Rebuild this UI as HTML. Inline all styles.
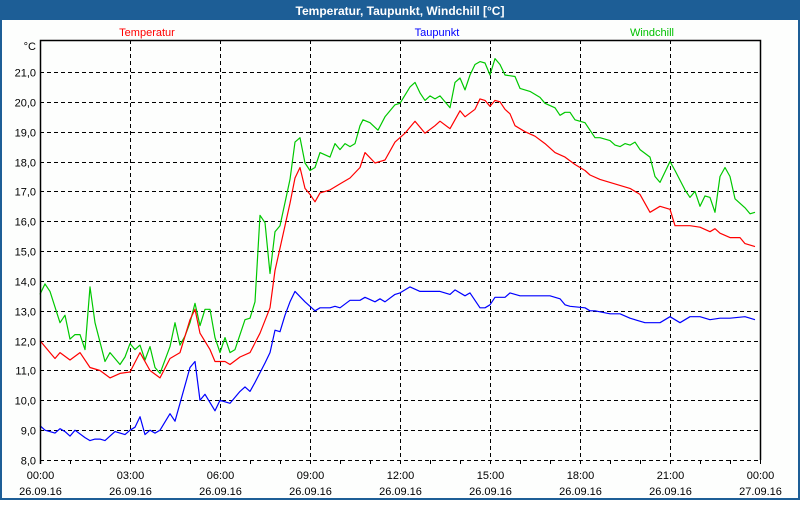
<!DOCTYPE html>
<html><head><meta charset="utf-8"><style>
body{margin:0;width:800px;height:500px;overflow:hidden;background:#fff;font-family:"Liberation Sans",sans-serif}
</style></head><body>
<svg id="chart" width="800" height="500" xmlns="http://www.w3.org/2000/svg" font-family="Liberation Sans, sans-serif">
<rect x="0" y="0" width="800" height="500" fill="#1d5e96"/>
<rect x="2" y="20" width="796" height="478" fill="#fdfefd"/>
<text x="400" y="15" fill="#fff" font-size="12" font-weight="bold" text-anchor="middle">Temperatur, Taupunkt, Windchill [°C]</text>
<text x="147" y="36" fill="#ff0000" font-size="11" text-anchor="middle">Temperatur</text>
<text x="437" y="36" fill="#0000ff" font-size="11" text-anchor="middle">Taupunkt</text>
<text x="652" y="36" fill="#00c000" font-size="11" text-anchor="middle">Windchill</text>
<text x="36" y="50" font-size="11" text-anchor="end">°C</text>
<g id="grid"></g><g id="series"></g><g id="axes"></g>
</svg>
<script>
const yTicks=[8,9,10,11,12,13,14,15,16,17,18,19,20,21];
const yTickLabels=["8,0","9,0","10,0","11,0","12,0","13,0","14,0","15,0","16,0","17,0","18,0","19,0","20,0","21,0"];
const xTicksHours=[0,3,6,9,12,15,18,21,24];
const xTickLabels=["00:00","03:00","06:00","09:00","12:00","15:00","18:00","21:00","00:00"];
const xDateLabels=["26.09.16","26.09.16","26.09.16","26.09.16","26.09.16","26.09.16","26.09.16","26.09.16","27.09.16"];
// times in minutes after midnight
const tempTimes=[0,20,30,40,60,80,100,120,140,160,180,200,220,240,260,280,300,310,320,340,350,370,380,400,420,440,460,470,480,500,510,520,530,540,550,560,580,600,620,640,650,670,690,710,730,750,770,790,800,820,840,850,870,880,890,900,910,920,930,940,950,970,990,1010,1030,1050,1070,1090,1100,1120,1140,1160,1180,1200,1220,1240,1260,1270,1300,1320,1340,1350,1360,1380,1400,1410,1430];
const tempValues=[12.0,11.6,11.4,11.6,11.35,11.6,11.1,11.0,10.75,10.9,10.95,11.6,11.0,10.75,11.4,11.6,12.7,13.05,12.25,11.7,11.3,11.3,11.2,11.45,11.6,12.25,13.1,14.35,15.1,16.6,17.45,17.8,17.1,16.9,16.65,16.95,17.05,17.25,17.45,17.8,18.3,17.95,18.05,18.65,18.95,19.35,18.95,19.2,19.35,19.1,19.7,19.5,19.75,20.1,20.05,19.85,20.05,20.0,19.75,19.6,19.2,19.0,18.85,18.6,18.3,18.15,17.9,17.7,17.55,17.4,17.3,17.2,17.1,16.9,16.3,16.5,16.4,15.85,15.85,15.8,15.65,15.75,15.6,15.45,15.45,15.25,15.15];
const dewTimes=[0,10,30,40,50,60,70,90,100,110,120,130,150,170,180,190,200,210,220,230,240,260,270,280,300,310,320,330,350,360,380,400,410,420,430,450,460,470,480,490,500,510,530,550,560,580,590,600,620,640,650,670,680,690,710,720,740,760,800,820,830,850,860,880,890,900,910,930,940,960,1020,1040,1050,1060,1090,1100,1110,1140,1160,1180,1210,1240,1260,1280,1300,1320,1340,1360,1380,1410,1430];
const dewValues=[9.15,9.0,8.9,9.05,8.95,8.8,9.0,8.75,8.65,8.7,8.7,8.65,8.95,8.85,9.0,9.1,9.45,8.85,9.0,8.9,9.0,9.55,9.3,9.9,11.1,11.3,10.0,10.2,9.65,10.0,9.9,10.3,10.45,10.3,10.6,11.25,11.6,12.35,12.3,12.85,13.3,13.65,13.3,13.0,13.1,13.1,13.15,13.1,13.35,13.35,13.45,13.3,13.4,13.3,13.55,13.6,13.8,13.65,13.65,13.55,13.7,13.5,13.6,13.1,13.1,13.2,13.45,13.45,13.6,13.5,13.5,13.4,13.2,13.15,13.1,13.0,13.0,12.9,12.9,12.75,12.6,12.6,12.8,12.6,12.8,12.8,12.7,12.75,12.75,12.8,12.7,12.6];
const windTimes=[0,10,20,40,50,60,70,80,90,100,110,130,140,160,170,180,190,200,210,220,230,240,260,270,280,290,300,310,320,330,340,350,360,370,380,390,410,420,430,440,450,460,470,480,500,510,520,530,540,550,560,580,590,600,610,620,630,640,646,660,676,690,710,720,740,750,760,770,780,790,800,820,830,840,850,860,870,880,890,900,910,920,930,950,960,980,1000,1010,1030,1040,1050,1060,1070,1090,1110,1120,1140,1150,1160,1170,1180,1190,1200,1220,1230,1240,1260,1270,1290,1300,1310,1320,1330,1340,1350,1360,1370,1380,1390,1410,1420,1430];
const windValues=[13.55,13.9,13.65,12.6,12.85,12.05,12.2,12.2,11.7,13.8,12.6,11.3,11.6,11.2,11.45,11.9,11.7,11.85,11.35,11.8,11.1,10.9,11.8,12.6,11.85,12.15,12.6,13.25,12.5,13.05,13.05,12.1,11.6,12.1,11.6,11.7,12.7,12.75,13.3,16.2,15.95,14.25,15.65,15.85,17.4,18.65,18.8,17.95,17.7,17.8,18.3,18.15,18.6,18.4,18.6,18.5,18.6,19.2,19.4,19.3,19.05,19.5,19.9,19.95,20.5,20.65,20.3,20.05,20.2,20.1,20.2,19.8,20.65,20.8,20.4,20.9,21.25,21.35,21.3,20.9,21.45,21.25,20.9,20.85,20.45,20.35,20.15,19.95,19.8,19.55,19.65,19.65,19.4,19.3,18.8,18.8,18.7,18.55,18.5,18.6,18.55,18.65,18.4,18.15,17.5,17.3,18.0,17.7,17.05,16.8,17.0,16.5,16.85,16.8,16.3,17.5,17.8,17.5,16.75,16.45,16.25,16.3];

const X0=40,X1=760,Y0=460,Y1=72;
const xMin=t=>X0+t*(X1-X0)/1440;
const xHour=h=>xMin(h*60);
const yVal=v=>Y0-(v-8)*(Y0-Y1)/13;
const NS="http://www.w3.org/2000/svg";
function mk(tag,parent,attrs){const e=document.createElementNS(NS,tag);for(const k in attrs)e.setAttribute(k,attrs[k]);parent.appendChild(e);return e;}
const grid=document.getElementById('grid'),axes=document.getElementById('axes'),series=document.getElementById('series');
yTicks.forEach((v,i)=>{
  const y=Math.round(yVal(v))+0.5;
  const l=mk('line',grid,{x1:X0,x2:X1,y1:y,y2:y,stroke:'#000','stroke-dasharray':'4,3'});
  
  
  const t=mk('text',axes,{x:36,y:y+4,'font-size':11,'text-anchor':'end'});
  t.textContent=yTickLabels[i];
  
  
});
xTicksHours.forEach((h,i)=>{
  const x=Math.round(xHour(h))+0.5;
  const l=mk('line',grid,{x1:x,x2:x,y1:40,y2:Y0,stroke:'#000','stroke-dasharray':'4,3'});
  
  
  const t=mk('text',axes,{x:x,y:479,'font-size':11,'text-anchor':'middle'});
  t.textContent=xTickLabels[i];
  
  
  const d=mk('text',axes,{x:x,y:495,'font-size':11,'text-anchor':'middle'});
  d.textContent=xDateLabels[i];
  
  
});
for(let h=0;h<=24;h++){
  const x=Math.round(xHour(h))+0.5;
  const tk=mk('line',axes,{x1:x,x2:x,y1:Y0,y2:Y0+4,stroke:'#000'});
  
  
}
const frame=mk('path',axes,{d:`M${X0+0.5},${Y0+4}V40.5H${X1+0.5}V${Y0}`,fill:'none',stroke:'#000','stroke-width':1.5});


function drawSeries(times,vals,color,name){
  const n=Math.min(times.length,vals.length);
  const pts=[];
  for(let i=0;i<n;i++)pts.push(xMin(times[i]).toFixed(1)+','+yVal(vals[i]).toFixed(1));
  const p=mk('polyline',series,{points:pts.join(' '),fill:'none',stroke:color,'stroke-width':1.2,'stroke-linejoin':'round'});
  
  
}
drawSeries(windTimes,windValues,'#00c800','windchill-line');
drawSeries(tempTimes,tempValues,'#ff0000','temperatur-line');
drawSeries(dewTimes,dewValues,'#0000ff','taupunkt-line');
</script>
</body></html>
